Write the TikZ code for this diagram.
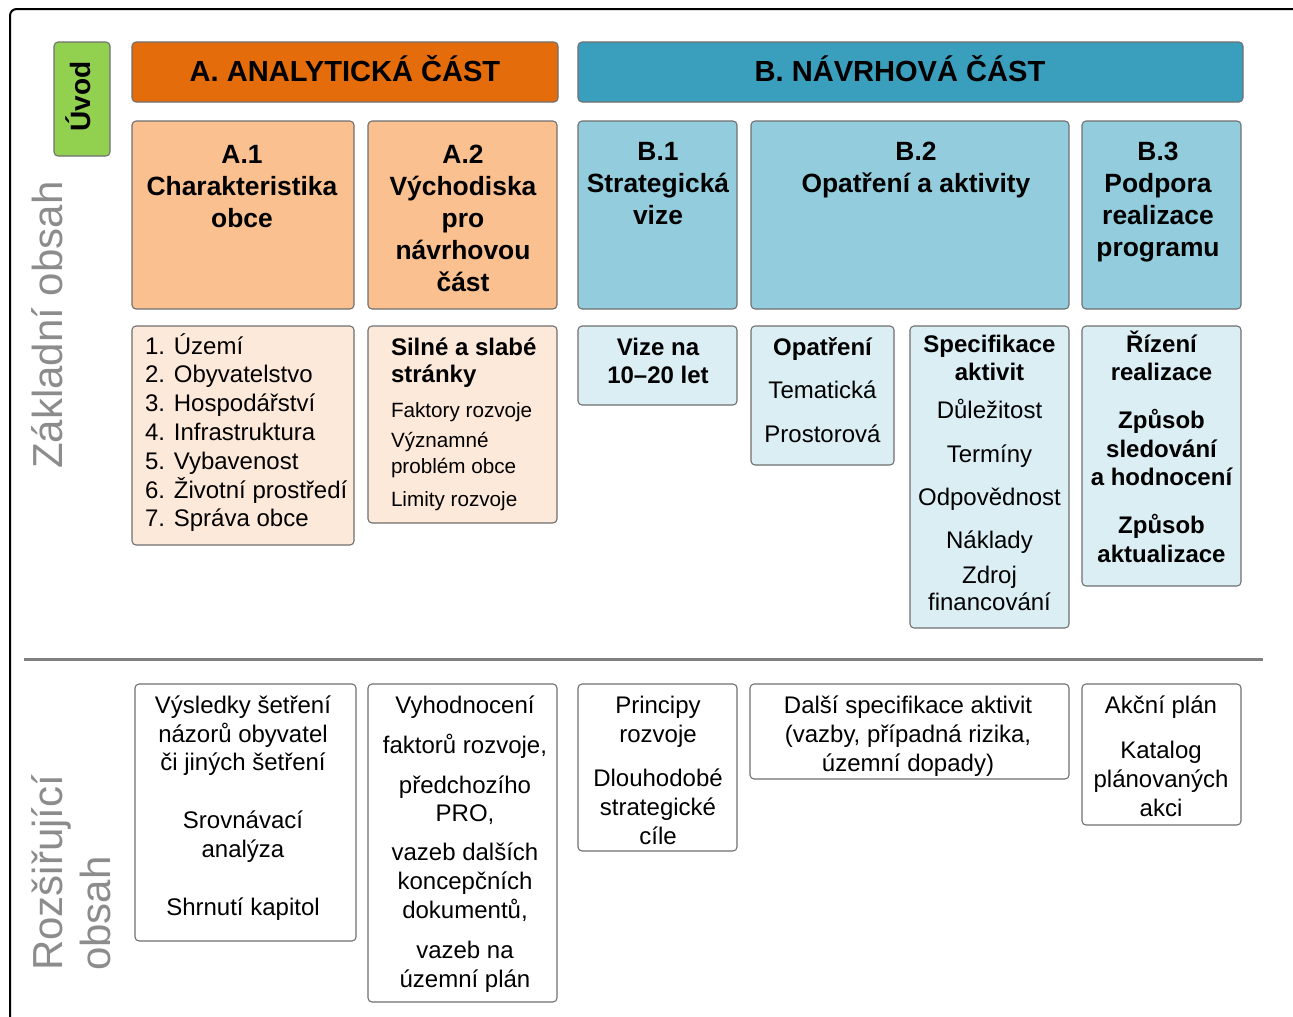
\documentclass[tikz,border=0pt]{standalone}
\usepackage{fontspec}
\setmainfont{Liberation Sans}
\usetikzlibrary{fit}
\definecolor{uvodgreen}{HTML}{92D050}
\definecolor{aorange}{HTML}{E46C0A}
\definecolor{bteal}{HTML}{3A9FBC}
\definecolor{alight}{HTML}{FAC090}
\definecolor{blight}{HTML}{93CDDD}
\definecolor{apale}{HTML}{FDE9D9}
\definecolor{bpale}{HTML}{DBEEF4}
\definecolor{edgegray}{HTML}{6F6F6F}
\definecolor{labelgray}{HTML}{8C8C8C}
\definecolor{rulegray}{HTML}{808080}
\newdimen\pxu \pxu=0.75pt
\lineskiplimit=-1000pt
\newcommand\fst{\rule{0pt}{1em}}
\newcommand\gp[1]{\\[#1\pxu]}
\newcommand\fhdr{\fontsize{21.8pt}{0pt}\selectfont\bfseries}
\newcommand\fttl{\fontsize{19.8pt}{0pt}\selectfont\bfseries}
\newcommand\flst{\fontsize{18pt}{0pt}\selectfont}
\newcommand\fbl{\fontsize{18pt}{0pt}\selectfont\bfseries}
\newcommand\fsml{\fontsize{15.5pt}{0pt}\selectfont}
\newcommand\flab{\fontsize{31.5pt}{0pt}\selectfont}
\newcommand\fuvod{\fontsize{21pt}{0pt}\selectfont\bfseries}
\begin{document}
\begin{tikzpicture}[x=0.75pt,y=-0.75pt,
  box/.style={draw=edgegray, line width=0.8pt, rounded corners=3pt, inner sep=0pt},
  txt/.style={inner sep=0pt, outer sep=0pt, align=center, font=\flst, anchor=north},
  txtl/.style={inner sep=0pt, outer sep=0pt, align=left, font=\flst, anchor=north west},
  ttl/.style={txt, font=\fttl},
  side/.style={inner sep=0pt, rotate=90, font=\flab, text=labelgray}]
\useasboundingbox (0,0) rectangle (1293,1017);
\clip (0,0) rectangle (1293,1017);

% outer frame
\coordinate (fb) at (10,1040);
\coordinate (fc) at (10,9);
\coordinate (fr) at (1320,9);
\draw[line width=1.5pt, rounded corners=5pt] (fb) -- (fc) -- (fr);

% divider
\coordinate (dl) at (24,659);
\coordinate (dr) at (1263,659);
\draw[line width=2.25pt, rulegray] (dl) -- (dr);

% side labels
\node[side, anchor=base west] (zakl) at (62,469) {Základní obsah};
\node[side, anchor=north west, align=left] (rozs) at (20,971) {\fst Rozšiřující\gp{48}obsah};

% headers
\node[box, fill=uvodgreen, fit={(54,42) (110,156)}] (uvod) {};
\node[inner sep=0pt, rotate=90, anchor=base west, font=\fuvod] (uvodt) at (90,132) {Úvod};
\node[box, fill=aorange, fit={(132,42) (558,102)}] (ahead) {};
\node[inner sep=0pt, anchor=base, font=\fhdr] (aheadt) at (345,81) {A. ANALYTICKÁ ČÁST};
\node[box, fill=bteal, fit={(578,42) (1243,102)}] (bhead) {};
\node[inner sep=0pt, anchor=base, font=\fhdr] (bheadt) at (900,81) {B. NÁVRHOVÁ ČÁST};

% title boxes
\node[box, fill=alight, fit={(132,121) (354,309)}] (a1) {};
\node[ttl] (a1t) at (242,136.6) {\fst A.1\gp{32}Charakteristika\gp{32}obce};
\node[box, fill=alight, fit={(368,121) (557,309)}] (a2) {};
\node[ttl] (a2t) at (463,136.6) {\fst A.2\gp{32}Východiska\gp{32}pro\gp{32}návrhovou\gp{32}část};
\node[box, fill=blight, fit={(578,121) (737,309)}] (b1) {};
\node[ttl] (b1t) at (658,133.6) {\fst B.1\gp{32}Strategická\gp{32}vize};
\node[box, fill=blight, fit={(751,121) (1069,309)}] (b2) {};
\node[ttl] (b2t) at (916,133.6) {\fst B.2\gp{32}Opatření a aktivity};
\node[box, fill=blight, fit={(1082,121) (1241,309)}] (b3) {};
\node[ttl] (b3t) at (1158,133.6) {\fst B.3\gp{32}Podpora\gp{32}realizace\gp{32}programu};

% content boxes
\node[box, fill=apale, fit={(132,326) (354,545)}] (a1l) {};
\node[txtl] (a1lt) at (145,330) {\fst 1. Území\gp{28.8}2. Obyvatelstvo\gp{28.8}3. Hospodářství\gp{28.8}4. Infrastruktura\gp{28.8}5. Vybavenost\gp{28.8}6. Životní prostředí\gp{28.8}7. Správa obce};
\node[box, fill=apale, fit={(368,326) (557,523)}] (a2l) {};
\node[txtl] (a2lt) at (391,331) {\fbl\fst Silné a slabé\gp{27}\fbl stránky\gp{35}\fsml Faktory rozvoje\gp{30}\fsml Významné\gp{26}\fsml problém obce\gp{33}\fsml Limity rozvoje};
\node[box, fill=bpale, fit={(578,326) (737,405)}] (b1l) {};
\node[txt] (b1lt) at (658,331) {\fbl\fst Vize na\gp{28}\fbl 10–20 let};
\node[box, fill=bpale, fit={(751,326) (894,465)}] (b2o) {};
\node[txt] (b2ot) at (822.5,331) {\fbl\fst Opatření\gp{43}Tematická\gp{44}Prostorová};
\node[box, fill=bpale, fit={(910,326) (1069,628)}] (b2s) {};
\node[txt] (b2st) at (989.5,328) {\fbl\fst Specifikace\gp{28}\fbl aktivit\gp{38}Důležitost\gp{44}Termíny\gp{43}Odpovědnost\gp{43}Náklady\gp{35}Zdroj\gp{27}financování};
\node[box, fill=bpale, fit={(1082,326) (1241,586)}] (b3l) {};
\node[txt, font=\fbl] (b3lt) at (1161.5,328) {\fbl\fst Řízení\gp{28}\fbl realizace\gp{48}\fbl Způsob\gp{29}\fbl sledování\gp{28}\fbl a hodnocení\gp{48}\fbl Způsob\gp{29}\fbl aktualizace};

% extended content
\node[box, fill=white, fit={(135,684) (356,941)}] (e1) {};
\node[txt] (e1t) at (243,689) {\fst Výsledky šetření\gp{29}názorů obyvatel\gp{28}či jiných šetření\gp{58}Srovnávací\gp{29}analýza\gp{58}Shrnutí kapitol};
\node[box, fill=white, fit={(368,684) (557,1002)}] (e2) {};
\node[txt] (e2t) at (465,689) {\fst Vyhodnocení\gp{40}faktorů rozvoje,\gp{40}předchozího\gp{28}PRO,\gp{39}vazeb dalších\gp{29}koncepčních\gp{29}dokumentů,\gp{40}vazeb na\gp{29}územní plán};
\node[box, fill=white, fit={(578,684) (737,851)}] (e3) {};
\node[txt] (e3t) at (658,689) {\fst Principy\gp{29}rozvoje\gp{44}Dlouhodobé\gp{29}strategické\gp{29}cíle};
\node[box, fill=white, fit={(750,684) (1069,779)}] (e4) {};
\node[txt] (e4t) at (908,689) {\fst Další specifikace aktivit\gp{29}(vazby, případná rizika,\gp{29}územní dopady)};
\node[box, fill=white, fit={(1082,684) (1241,825)}] (e5) {};
\node[txt] (e5t) at (1161,689) {\fst Akční plán\gp{45}Katalog\gp{29}plánovaných\gp{29}akci};
\end{tikzpicture}
\end{document}
